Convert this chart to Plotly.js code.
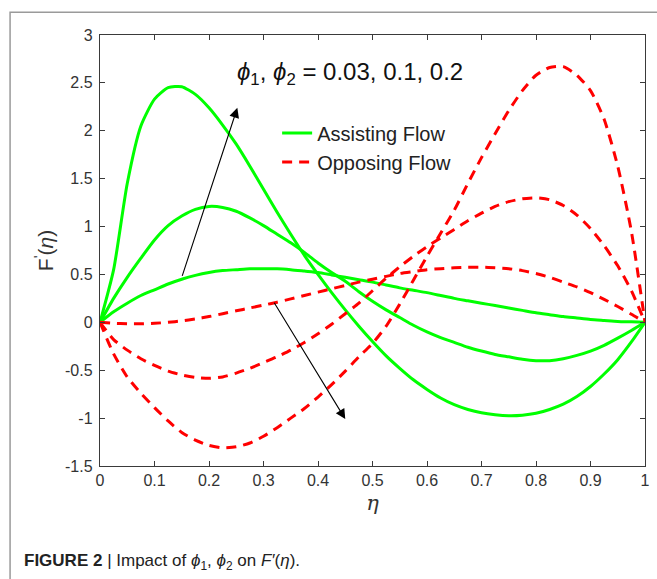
<!DOCTYPE html>
<html>
<head>
<meta charset="utf-8">
<script src="https://cdn.plot.ly/plotly-3.0.1.min.js"></script>
<style>
html,body{margin:0;padding:0;background:#fff;}
#chart{width:657px;height:579px;}
</style>
</head>
<body>
<div id="chart"></div>
<script>
// eta grid shared by all curves (step 0.025)
const eta = [0, 0.025, 0.05, 0.075, 0.1, 0.125, 0.15, 0.175, 0.2, 0.225, 0.25, 0.275, 0.3, 0.325, 0.35, 0.375, 0.4, 0.425, 0.45, 0.475, 0.5,
             0.525, 0.55, 0.575, 0.6, 0.625, 0.65, 0.675, 0.7, 0.725, 0.75, 0.775, 0.8, 0.825, 0.85, 0.875, 0.9, 0.925, 0.95, 0.975, 1];

// Assisting flow, phi1 = phi2 = 0.03, 0.1, 0.2
const assist1 = [0, 0.11, 0.20, 0.28, 0.34, 0.40, 0.45, 0.49, 0.52, 0.54, 0.55, 0.56, 0.56, 0.56, 0.55, 0.535, 0.52, 0.495, 0.47, 0.445, 0.42,
                 0.39, 0.36, 0.335, 0.31, 0.28, 0.25, 0.225, 0.20, 0.175, 0.15, 0.125, 0.10, 0.08, 0.06, 0.045, 0.03, 0.02, 0.01, 0.005, 0];
const assist2 = [0, 0.25, 0.47, 0.67, 0.86, 1.01, 1.11, 1.18, 1.21, 1.20, 1.16, 1.09, 1.01, 0.92, 0.83, 0.73, 0.62, 0.52, 0.43, 0.32, 0.22,
                 0.13, 0.05, -0.03, -0.10, -0.16, -0.21, -0.26, -0.30, -0.335, -0.36, -0.385, -0.40, -0.40, -0.38, -0.345, -0.30, -0.24, -0.165, -0.085, 0];
const assist3 = [0, 0.55, 1.45, 2.05, 2.33, 2.45, 2.46, 2.38, 2.24, 2.06, 1.86, 1.63, 1.39, 1.15, 0.92, 0.70, 0.50, 0.31, 0.13, -0.04, -0.20,
                 -0.35, -0.48, -0.60, -0.70, -0.79, -0.86, -0.91, -0.945, -0.965, -0.975, -0.97, -0.95, -0.91, -0.855, -0.775, -0.67, -0.54, -0.39, -0.205, 0];

// Opposing flow, phi1 = phi2 = 0.03, 0.1, 0.2
const oppose1 = [0, -0.01, -0.015, -0.015, -0.01, 0.00, 0.015, 0.035, 0.06, 0.09, 0.12, 0.15, 0.18, 0.21, 0.245, 0.28, 0.315, 0.35, 0.385, 0.42, 0.45,
                 0.48, 0.51, 0.53, 0.55, 0.56, 0.57, 0.575, 0.575, 0.57, 0.56, 0.54, 0.51, 0.47, 0.42, 0.37, 0.31, 0.24, 0.165, 0.085, 0];
const oppose2 = [0, -0.18, -0.29, -0.38, -0.45, -0.51, -0.55, -0.575, -0.585, -0.57, -0.53, -0.48, -0.42, -0.36, -0.29, -0.21, -0.12, -0.02, 0.09, 0.20, 0.33,
                 0.46, 0.58, 0.69, 0.79, 0.88, 0.97, 1.06, 1.14, 1.21, 1.26, 1.29, 1.30, 1.28, 1.22, 1.12, 0.98, 0.80, 0.59, 0.33, 0];
const oppose3 = [0, -0.33, -0.57, -0.74, -0.89, -1.03, -1.15, -1.23, -1.285, -1.31, -1.30, -1.26, -1.19, -1.10, -1.00, -0.90, -0.78, -0.65, -0.51, -0.36, -0.22,
                 -0.04, 0.19, 0.44, 0.69, 0.93, 1.17, 1.45, 1.72, 1.97, 2.21, 2.42, 2.58, 2.66, 2.67, 2.58, 2.42, 2.12, 1.63, 0.95, 0];

const xTicks = [0, 0.1, 0.2, 0.3, 0.4, 0.5, 0.6, 0.7, 0.8, 0.9, 1];
const xTickText = ['0', '0.1', '0.2', '0.3', '0.4', '0.5', '0.6', '0.7', '0.8', '0.9', '1'];
const yTicks = [-1.5, -1, -0.5, 0, 0.5, 1, 1.5, 2, 2.5, 3];
const yTickText = ['-1.5', '-1', '-0.5', '0', '0.5', '1', '1.5', '2', '2.5', '3'];

const seriesNames = ['Assisting Flow', 'Opposing Flow'];

// arrows: [tailX, tailY, headX, headY]
const arrowUp = [0.15, 0.47, 0.252, 2.24];
const arrowDown = [0.318, 0.22, 0.45, -1.01];

const GREEN = '#00ff00';
const RED = '#ff0000';
const FONT = 'Liberation Sans, Arial, Helvetica, sans-serif';

function assistTrace(y, show) {
  return {x: eta, y: y, type: 'scatter', mode: 'lines', name: seriesNames[0],
    legendgroup: 'a', showlegend: show,
    line: {color: GREEN, width: 3, shape: 'spline', smoothing: 0.6}};
}
function opposeTrace(y, show) {
  return {x: eta, y: y, type: 'scatter', mode: 'lines', name: seriesNames[1],
    legendgroup: 'o', showlegend: show,
    line: {color: RED, width: 3, dash: '10px,7px', shape: 'spline', smoothing: 0.6}};
}

const data = [
  assistTrace(assist1, true), assistTrace(assist2, false), assistTrace(assist3, false),
  opposeTrace(oppose1, true), opposeTrace(oppose2, false), opposeTrace(oppose3, false)
];

const axisCommon = {
  showgrid: false, zeroline: false, showline: true, linecolor: '#3a3a3a', linewidth: 1.2,
  mirror: 'ticks', ticks: 'inside', ticklen: 5, tickcolor: '#3a3a3a', tickwidth: 1,
  tickfont: {family: FONT, size: 16, color: '#333'}
};

const layout = {
  width: 657, height: 579,
  margin: {l: 100, r: 12, t: 35, b: 113},
  paper_bgcolor: '#fff', plot_bgcolor: '#fff',
  font: {family: FONT, color: '#222'},
  xaxis: Object.assign({}, axisCommon, {
    range: [0, 1], tickvals: xTicks, ticktext: xTickText,
    title: {text: '<i>η</i>', font: {family: 'DejaVu Serif, serif', size: 21, color: '#333'}, standoff: 6}
  }),
  yaxis: Object.assign({}, axisCommon, {
    range: [-1.5, 3], tickvals: yTicks, ticktext: yTickText, ticklabelstandoff: 3,
    title: {text: 'F<sup>\'</sup>(<i>η</i>)', font: {family: FONT, size: 21, color: '#333'}, standoff: 5}
  }),
  showlegend: true,
  legend: {
    x: 0.325, y: 0.818, xanchor: 'left', yanchor: 'top',
    bgcolor: 'rgba(0,0,0,0)', borderwidth: 0,
    font: {family: FONT, size: 20, color: '#222'},
    tracegroupgap: 0
  },
  annotations: [
    {xref: 'x', yref: 'y', x: arrowUp[2], y: arrowUp[3], ax: arrowUp[0], ay: arrowUp[1],
     axref: 'x', ayref: 'y', showarrow: true, arrowhead: 2, arrowsize: 1.8, arrowwidth: 1.1,
     arrowcolor: '#000', text: ''},
    {xref: 'x', yref: 'y', x: arrowDown[2], y: arrowDown[3], ax: arrowDown[0], ay: arrowDown[1],
     axref: 'x', ayref: 'y', showarrow: true, arrowhead: 2, arrowsize: 1.8, arrowwidth: 1.1,
     arrowcolor: '#000', text: ''},
    {xref: 'x', yref: 'y', x: 0.458, y: 2.6, showarrow: false,
     text: '<i>ϕ</i><sub>1</sub>, <i>ϕ</i><sub>2</sub> = 0.03, 0.1, 0.2',
     font: {family: FONT, size: 24, color: '#111'}},
    {xref: 'paper', yref: 'paper', x: -0.143, y: -0.223, xanchor: 'left', yanchor: 'middle', showarrow: false,
     text: '<b>FIGURE 2</b> | Impact of <i>ϕ</i><sub>1</sub>, <i>ϕ</i><sub>2</sub> on <i>F′</i>(<i>η</i>).',
     font: {family: 'Liberation Sans Narrow, Liberation Sans, Arial, sans-serif', size: 17, color: '#222'}}
  ],
  shapes: [
    {type: 'rect', xref: 'paper', yref: 'paper', x0: -0.165, y0: 1.053, x1: 1.06, y1: -0.32,
     line: {color: '#9a9a9a', width: 1.5}, fillcolor: 'rgba(0,0,0,0)', layer: 'below'}
  ]
};

Plotly.newPlot('chart', data, layout, {displayModeBar: false, staticPlot: true});
</script>
</body>
</html>
